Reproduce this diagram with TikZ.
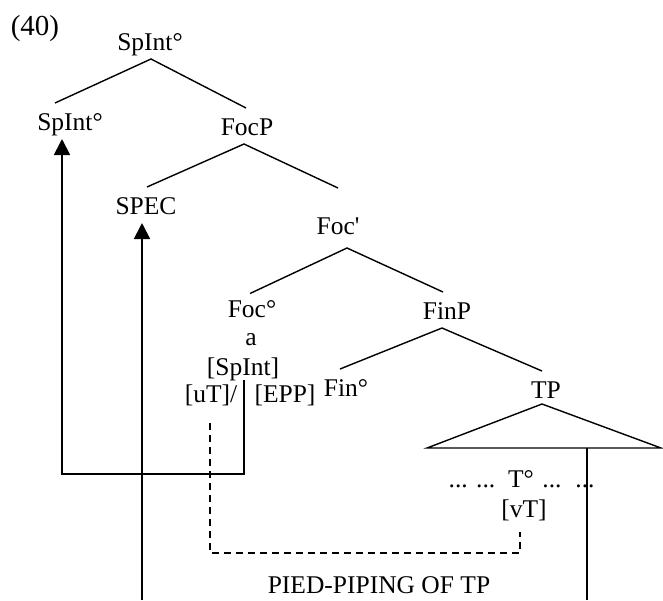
\documentclass[tikz,border=0pt]{standalone}
\usepackage{fontspec}
\setmainfont{Liberation Serif}
\usetikzlibrary{arrows.meta, calc}

\begin{document}
\begin{tikzpicture}[x=1pt, y=-1pt,
  lab/.style={inner sep=0pt, outer sep=0pt, text height=18pt, text depth=0pt,
    font=\fontsize{25.5}{30}\selectfont},
  cat/.style={lab, outer ysep=9pt},
  tree/.style={line width=1.4pt},
  move/.style={line width=1.8pt, -{Triangle[length=16pt, width=16pt]}}]
  \useasboundingbox (0,0) rectangle (663,600);

  \node[lab, font=\fontsize{29}{34}\selectfont] (ex) at (35,26) {(40)};
  \node[cat] (root) at (150,41) {SpInt°};
  \node[cat] (spint) at (70,121) {SpInt°};
  \node[cat] (focp) at (247,126) {FocP};
  \node[cat] (spec) at (146,205) {SPEC};
  \node[cat] (focbar) at (338,225) {Foc\textquotesingle};
  \node[cat] (foc) at (252,308) {Foc°};
  \node[lab] (a) at (251,336) {a};
  \node[lab] (feat) at (243,366) {[SpInt]};
  \node[lab] (ut) at (211,393) {[uT]/};
  \node[lab] (epp) at (285,393) {[EPP]};
  \node[cat] (finp) at (447,310) {FinP};
  \node[cat] (fin) at (346,387) {Fin°};
  \node[cat] (tp) at (546,389) {TP};
  \node[lab] (dotsa) at (472,478) {... ...};
  \node[lab] (tdeg) at (521,478) {T°};
  \node[lab] (dotsb) at (552,478) {...};
  \node[lab] (dotsc) at (585,478) {...};
  \node[lab] (vt) at (524,508) {[vT]};
  \node[lab] (pied) at (379,584) {PIED-PIPING OF TP};

  \coordinate (triT) at (542,404);
  \coordinate (triL) at (427,448);
  \coordinate (triR) at (661,448);
  \coordinate (specfoot) at (142,600);
  \coordinate (tpfoot) at (587,600);

  \draw[tree] ([xshift=-15pt]spint.north) -- ([xshift=1pt]root.south) -- ([xshift=-1pt]focp.north);
  \draw[tree] ([xshift=1pt]spec.north) -- ([xshift=-3pt]focp.south) -- ([yshift=19pt]focbar.north);
  \draw[tree] ([xshift=-2pt,yshift=-3.5pt]foc.north) -- ([xshift=9pt,yshift=-5pt]focbar.south) -- ([xshift=-4pt]finp.north);
  \draw[tree] ([xshift=-6pt]fin.north) -- ([xshift=-5pt]finp.south) -- ([xshift=-4pt]tp.north);
  \draw[tree] (triL) -- (triT) -- (triR) -- cycle;

  \draw[move] ([xshift=1pt,yshift=-5pt]feat.south) -- ++(0,94) -| ([xshift=-8pt]spint.south);
  \draw[move] (specfoot) -- (specfoot |- spec.south);
  \draw[line width=1.8pt] (tpfoot) -- (tpfoot |- triL);

  \draw[line width=1.5pt, dash pattern=on 7pt off 5pt]
    ([xshift=-1pt,yshift=-21pt]ut.south) -- ++(0,130) -| ([xshift=-4pt,yshift=-15pt]vt.south);
\end{tikzpicture}
\end{document}
